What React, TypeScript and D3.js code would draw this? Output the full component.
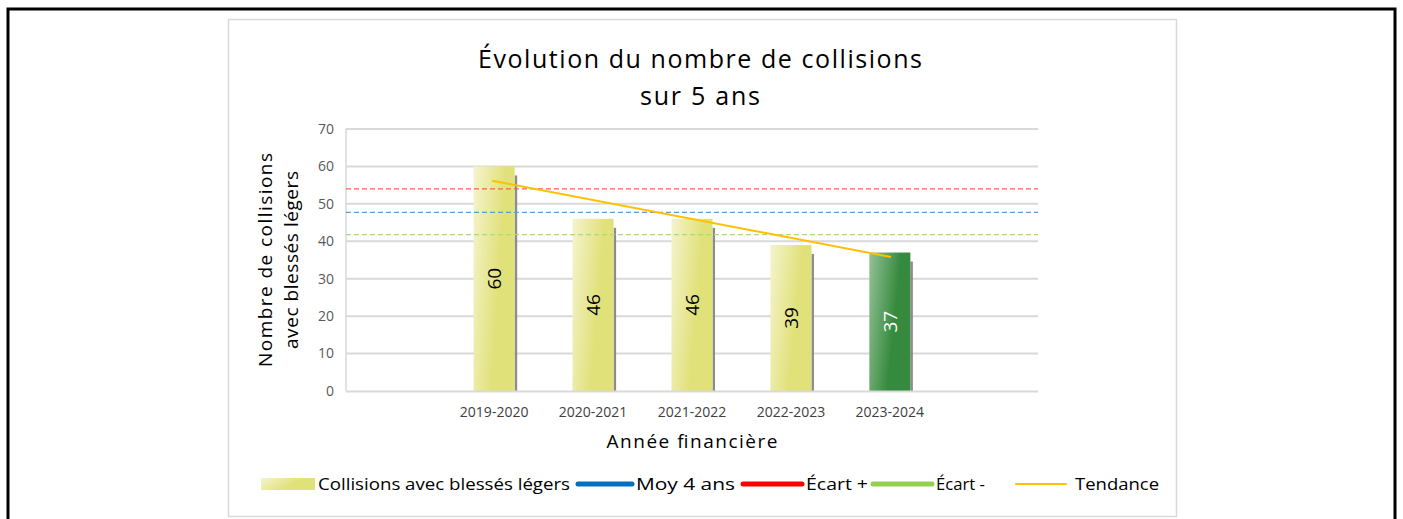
import * as d3 from 'd3';
import React from 'react';

// values
const annees = ['2019-2020', '2020-2021', '2021-2022', '2022-2023', '2023-2024'];
const collisions = [60, 46, 46, 39, 37];
const moy4ans = 47.75;
const ecartPlus = 54;
const ecartMoins = 41.8;
const tendance = [56.2, 35.8]; // start (first year) and end (last year)
const yTicks = [0, 10, 20, 30, 40, 50, 60, 70];

const W = 1403;
const H = 519;
const FONT = "'Open Sans', 'Noto Sans', sans-serif";

function App() {
  const ref = React.useRef<SVGSVGElement>(null);

  React.useEffect(() => {
    const svg = d3.select(ref.current);
    svg.selectAll('*').remove();

    const left = 346, right = 1038, top = 129, bottom = 391;

    // empty slots at both ends, like the original
    const cats = ['', ...annees, ' '];
    const x = d3.scaleBand().domain(cats).range([left, right]).paddingInner(0.585).paddingOuter(0.29);
    const y = d3.scaleLinear().domain([0, 70]).range([bottom, top]);

    const defs = svg.append('defs');
    const grad = (id: string, c0: string, c1: string) => {
      const g = defs.append('linearGradient').attr('id', id)
        .attr('x1', 0).attr('y1', 0).attr('x2', 0.7).attr('y2', 0.25);
      g.append('stop').attr('offset', 0).attr('stop-color', c0);
      g.append('stop').attr('offset', 1).attr('stop-color', c1);
    };
    grad('gy', '#f4f4cd', '#e1e17a');
    grad('gg', '#94c298', '#368a3d');

    // outer black frame
    svg.append('rect').attr('x', 8).attr('y', 9).attr('width', 1387).attr('height', 540)
      .attr('fill', 'white').attr('stroke', 'black').attr('stroke-width', 3);

    // chart frame
    svg.append('rect').attr('x', 228.5).attr('y', 19.5).attr('width', 948).attr('height', 497)
      .attr('fill', 'white').attr('stroke', '#d9d9d9').attr('stroke-width', 1.5);

    // title
    const title = svg.append('text').attr('text-anchor', 'middle').attr('font-family', FONT)
      .attr('font-size', 25).attr('fill', '#000');
    title.append('tspan').attr('x', 700).attr('y', 68).attr('textLength', 444).attr('lengthAdjust', 'spacing')
      .text('Évolution du nombre de collisions');
    title.append('tspan').attr('x', 700).attr('y', 105).attr('textLength', 120).attr('lengthAdjust', 'spacing')
      .text('sur 5 ans');

    // grid
    svg.append('g').selectAll('line').data(yTicks.slice(1)).join('line')
      .attr('x1', left).attr('x2', right)
      .attr('y1', d => y(d)).attr('y2', d => y(d))
      .attr('stroke', '#d9d9d9').attr('stroke-width', 2);
    svg.append('line').attr('x1', left).attr('x2', left).attr('y1', top).attr('y2', bottom)
      .attr('stroke', '#d9d9d9').attr('stroke-width', 1.5);

    // y tick labels
    svg.append('g').selectAll('text').data(yTicks).join('text')
      .attr('x', 334).attr('y', d => y(d)).attr('dy', '0.35em')
      .attr('text-anchor', 'end').attr('font-family', FONT).attr('font-size', 14)
      .attr('fill', '#595959').text(d => d);

    // y axis title
    const yt = svg.append('text').attr('transform', `translate(0,260) rotate(-90)`)
      .attr('text-anchor', 'middle').attr('font-family', FONT).attr('font-size', 19).attr('fill', '#000');
    yt.append('tspan').attr('x', 0).attr('y', 272).attr('textLength', 214).attr('lengthAdjust', 'spacing')
      .text('Nombre de collisions');
    yt.append('tspan').attr('x', 0).attr('y', 298).attr('textLength', 178).attr('lengthAdjust', 'spacing')
      .text('avec blessés légers');

    // bars
    const bars = svg.append('g').selectAll('g').data(collisions).join('g');
    bars.append('rect')
      .attr('x', (_, i) => x(annees[i])! + x.bandwidth())
      .attr('y', d => y(d) + 9)
      .attr('width', 2.5)
      .attr('height', d => bottom - y(d) - 9)
      .attr('fill', '#8c8c8c');
    bars.append('rect')
      .attr('x', (_, i) => x(annees[i])!)
      .attr('y', d => y(d))
      .attr('width', x.bandwidth())
      .attr('height', d => bottom - y(d))
      .attr('fill', (_, i) => i === collisions.length - 1 ? 'url(#gg)' : 'url(#gy)');

    // bottom axis line
    svg.append('line').attr('x1', left).attr('x2', right).attr('y1', bottom + 0.5).attr('y2', bottom + 0.5)
      .attr('stroke', '#d9d9d9').attr('stroke-width', 2);

    // bar labels
    bars.append('text')
      .attr('transform', (d, i) => `translate(${x(annees[i])! + x.bandwidth() / 2},${(y(d) + bottom) / 2}) rotate(-90)`)
      .attr('text-anchor', 'middle').attr('dy', '0.35em')
      .attr('font-family', FONT).attr('font-size', 19)
      .attr('fill', (_, i) => i === collisions.length - 1 ? '#fff' : '#000')
      .text(d => d);

    // reference lines
    const refs = [
      { v: ecartPlus, c: '#ff5b5b' },
      { v: moy4ans, c: '#5b9bd5' },
      { v: ecartMoins, c: '#a9dc7a' },
    ];
    svg.append('g').selectAll('line').data(refs).join('line')
      .attr('x1', left).attr('x2', right)
      .attr('y1', d => y(d.v)).attr('y2', d => y(d.v))
      .attr('stroke', d => d.c).attr('stroke-width', 1.3).attr('stroke-dasharray', '5,3');

    // trend line
    const cx = (i: number) => x(annees[i])! + x.bandwidth() / 2;
    const trendPts: [number, number][] = [
      [cx(0) - 2, y(tendance[0])],
      [cx(annees.length - 1) + 1, y(tendance[1])],
    ];
    svg.append('path').attr('d', d3.line()(trendPts)!)
      .attr('fill', 'none').attr('stroke', '#ffc000').attr('stroke-width', 2);

    // category labels
    svg.append('g').selectAll('text').data(annees).join('text')
      .attr('x', d => x(d)! + x.bandwidth() / 2).attr('y', 417)
      .attr('text-anchor', 'middle').attr('font-family', FONT).attr('font-size', 14)
      .attr('fill', '#404040').text(d => d);

    // x axis title
    svg.append('text').attr('x', 692).attr('y', 448).attr('text-anchor', 'middle')
      .attr('font-family', FONT).attr('font-size', 19).attr('fill', '#000')
      .attr('textLength', 171).attr('lengthAdjust', 'spacing').text('Année financière');

    // legend
    const ly = 484;
    const lg = svg.append('g').attr('font-family', FONT).attr('font-size', 16).attr('fill', '#000');
    lg.append('rect').attr('x', 261).attr('y', ly - 6).attr('width', 54).attr('height', 12).attr('fill', 'url(#gy)');
    lg.append('text').attr('x', 318).attr('y', ly).attr('dy', '0.35em')
      .attr('textLength', 252).attr('lengthAdjust', 'spacingAndGlyphs').text('Collisions avec blessés légers');
    const legLines = [
      { x0: 578, x1: 632, c: '#0070c0', w: 5, t: 'Moy 4 ans', tx: 636, tw: 99 },
      { x0: 743, x1: 802, c: '#ff0000', w: 5, t: 'Écart +', tx: 806, tw: 62 },
      { x0: 873, x1: 932, c: '#92d050', w: 5, t: 'Écart -', tx: 936, tw: 49 },
      { x0: 1016, x1: 1066, c: '#ffc000', w: 2, t: 'Tendance', tx: 1075, tw: 84 },
    ];
    legLines.forEach(l => {
      lg.append('line').attr('x1', l.x0).attr('x2', l.x1).attr('y1', ly).attr('y2', ly)
        .attr('stroke', l.c).attr('stroke-width', l.w).attr('stroke-linecap', 'round');
      lg.append('text').attr('x', l.tx).attr('y', ly).attr('dy', '0.35em')
        .attr('textLength', l.tw).attr('lengthAdjust', 'spacingAndGlyphs').text(l.t);
    });
  }, []);

  return (
    <div style={{ position: 'absolute', left: 0, top: 0 }}>
      <svg ref={ref} width={W} height={H} style={{ display: 'block' }} />
    </div>
  );
}

export default App;
